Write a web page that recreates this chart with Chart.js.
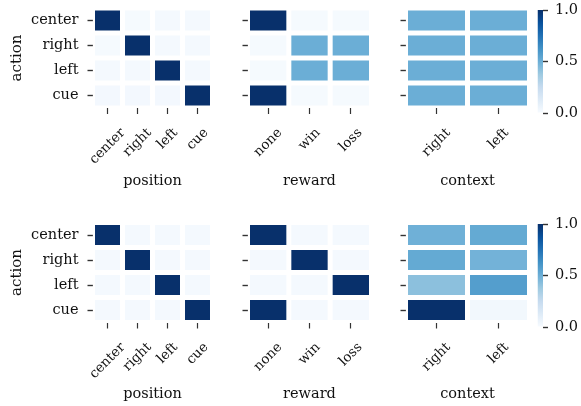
<!DOCTYPE html>
<html>
<head>
<meta charset="utf-8">
<script src="https://cdn.jsdelivr.net/npm/chart.js@4.4.0/dist/chart.umd.min.js"></script>
<style>
  html, body { margin: 0; padding: 0; background: #fff; }
  #fig { position: relative; width: 581px; height: 406px; overflow: hidden; }
  #fig canvas { position: absolute; }
</style>
</head>
<body>
<div id="fig"></div>
<script>
const actions = ['center', 'right', 'left', 'cue'];
const positions = ['center', 'right', 'left', 'cue'];
const rewards = ['none', 'win', 'loss'];
const contexts = ['right', 'left'];

// top row
const topPosition = [
  [1.00, 0.01, 0.015, 0.015],
  [0.01, 1.00, 0.015, 0.015],
  [0.015, 0.015, 1.00, 0.015],
  [0.02, 0.02, 0.02, 1.00],
];
const topReward = [
  [1.00, 0.01, 0.01],
  [0.01, 0.50, 0.50],
  [0.01, 0.50, 0.50],
  [1.00, 0.01, 0.01],
];
const topContext = [
  [0.50, 0.50],
  [0.50, 0.50],
  [0.50, 0.50],
  [0.50, 0.50],
];

// bottom row
const bottomPosition = [
  [1.00, 0.015, 0.015, 0.015],
  [0.015, 1.00, 0.015, 0.015],
  [0.015, 0.015, 1.00, 0.015],
  [0.015, 0.015, 0.015, 1.00],
];
const bottomReward = [
  [1.00, 0.015, 0.015],
  [0.015, 1.00, 0.015],
  [0.015, 0.015, 1.00],
  [1.00, 0.015, 0.015],
];
const bottomContext = [
  [0.49, 0.52],
  [0.52, 0.48],
  [0.42, 0.57],
  [1.00, 0.025],
];

const colorbarTicks = [0, 0.5, 1];

const BLUES = ['#f7fbff', '#deebf7', '#c6dbef', '#9ecae1', '#6baed6', '#4292c6', '#2171b5', '#08519c', '#08306b'];
const FONT = 'DejaVu Serif';
const TEXT = '#111';
const TICK = '#333';

function hex(c) { return [1, 3, 5].map(i => parseInt(c.slice(i, i + 2), 16)); }
function blues(v) {
  const t = Math.max(0, Math.min(1, v)) * (BLUES.length - 1);
  const i = Math.min(Math.floor(t), BLUES.length - 2);
  const f = t - i;
  const a = hex(BLUES[i]), b = hex(BLUES[i + 1]);
  const c = a.map((x, k) => Math.round(x + (b[k] - x) * f));
  return `rgb(${c[0]},${c[1]},${c[2]})`;
}

// category axis whose rotated labels are centred on the tick (like matplotlib ha='center')
class CenteredCategoryScale extends Chart.CategoryScale {
  getLabelItems(chartArea) {
    const fresh = !this._labelItems;
    const items = super.getLabelItems(chartArea);
    if (fresh && items) {
      const ctx = this.ctx;
      items.forEach(it => {
        if (!it.options || !it.options.translation) return;
        ctx.save();
        ctx.font = it.font.string;
        const w = ctx.measureText(String(it.label)).width;
        ctx.restore();
        it.options.translation[0] += w * Math.SQRT1_2 / 2;
      });
    }
    return items;
  }
}
CenteredCategoryScale.id = 'centeredCategory';
CenteredCategoryScale.defaults = Chart.CategoryScale.defaults;
Chart.register(CenteredCategoryScale);

function addCanvas(box) {
  const c = document.createElement('canvas');
  c.width = box.w; c.height = box.h;
  c.style.left = box.x + 'px'; c.style.top = box.y + 'px';
  c.style.width = box.w + 'px'; c.style.height = box.h + 'px';
  document.getElementById('fig').appendChild(c);
  return c;
}

// drop the label-overhang padding so the chart area lands where we put it
function noPad(s) { s.paddingTop = 0; s.paddingBottom = 0; s.paddingLeft = 0; s.paddingRight = 0; }

function heatmap(box, area, rows, cols, values, xTitle, yTitle, showRowLabels, titleY) {
  const canvas = addCanvas(box);
  const xFont = { family: FONT, size: 14.5 };
  new Chart(canvas, {
    type: 'bar',
    data: {
      labels: cols,
      datasets: rows.map((r, i) => ({
        label: r,
        data: cols.map(() => 1),
        backgroundColor: values[i].map(blues),
        borderColor: '#fff',
        borderWidth: 2.5,
        borderSkipped: false,
        barPercentage: 1,
        categoryPercentage: 1,
        inflateAmount: 0,
      })),
    },
    options: {
      responsive: false, animation: false, events: [],
      layout: { padding: { left: 0, top: area.top - box.y, right: box.x + box.w - area.right, bottom: 0 } },
      plugins: { legend: { display: false }, tooltip: { enabled: false } },
      scales: {
        x: {
          type: 'centeredCategory', offset: true,
          stacked: true,
          grid: { drawOnChartArea: false, offset: false, tickLength: 6, tickColor: TICK, tickWidth: 1.2 },
          border: { display: false },
          ticks: { minRotation: 45, maxRotation: 45, autoSkip: false, padding: 11, color: TEXT, font: { family: FONT, size: 13.5 } },
          title: { display: true, text: xTitle, color: TEXT, font: xFont, padding: { top: 0, bottom: box.y + box.h - titleY - 14.5 * 0.6 } },
          afterFit: s => { s.height = box.y + box.h - area.bottom; noPad(s); },
        },
        y: {
          stacked: true, reverse: true, min: 0, max: rows.length,
          afterBuildTicks: s => { s.ticks = rows.map((r, i) => ({ value: i + 0.5 })); },
          grid: { drawOnChartArea: false, tickLength: 5, tickColor: TICK, tickWidth: 1.4 },
          border: { display: false },
          ticks: { autoSkip: false, padding: 9, color: TEXT, font: xFont, callback: (v, i) => showRowLabels ? rows[i] : '' },
          title: { display: !!yTitle, text: yTitle, color: TEXT, font: { family: FONT, size: 15 }, padding: { top: 8.5, bottom: 0 } },
          afterFit: s => { s.width = area.left - box.x; noPad(s); },
        },
      },
    },
  });
}

function colorbar(box, area) {
  const canvas = addCanvas(box);
  new Chart(canvas, {
    type: 'bar',
    data: {
      labels: [''],
      datasets: [{
        data: [1],
        barPercentage: 1, categoryPercentage: 1, borderWidth: 0, inflateAmount: 0,
        backgroundColor: ctx => {
          const a = ctx.chart.chartArea;
          if (!a) return BLUES[4];
          const g = ctx.chart.ctx.createLinearGradient(0, a.bottom, 0, a.top);
          BLUES.forEach((c, i) => g.addColorStop(i / (BLUES.length - 1), c));
          return g;
        },
      }],
    },
    options: {
      responsive: false, animation: false, events: [],
      layout: { padding: { left: area.left - box.x, top: area.top - box.y, bottom: box.y + box.h - area.bottom, right: 0 } },
      plugins: { legend: { display: false }, tooltip: { enabled: false } },
      scales: {
        x: { display: false },
        y: {
          position: 'right', min: 0, max: 1,
          afterBuildTicks: s => { s.ticks = colorbarTicks.map(v => ({ value: v })); },
          grid: { drawOnChartArea: false, tickLength: 5, tickColor: TICK, tickWidth: 1.4 },
          border: { display: false },
          ticks: { padding: 7, color: TEXT, font: { family: FONT, size: 14.5 }, callback: v => v.toFixed(1) },
          afterFit: s => { s.width = box.x + box.w - area.right; noPad(s); },
        },
      },
    },
  });
}

// top row
heatmap({ x: 0, y: 0, w: 225, h: 200 }, { left: 92.5, top: 8, right: 212.5, bottom: 108 },
  actions, positions, topPosition, 'position', 'action', true, 181);
heatmap({ x: 225, y: 0, w: 150, h: 200 }, { left: 247.5, top: 8, right: 371.5, bottom: 108 },
  actions, rewards, topReward, 'reward', '', false, 181);
heatmap({ x: 378, y: 0, w: 155, h: 200 }, { left: 405.5, top: 8, right: 529.5, bottom: 108 },
  actions, contexts, topContext, 'context', '', false, 181);
colorbar({ x: 530, y: 0, w: 51, h: 125 }, { left: 537.5, top: 10, right: 543, bottom: 113 });

// bottom row
heatmap({ x: 0, y: 213, w: 225, h: 193 }, { left: 92.5, top: 222.5, right: 212.5, bottom: 322.5 },
  actions, positions, bottomPosition, 'position', 'action', true, 394);
heatmap({ x: 225, y: 213, w: 150, h: 193 }, { left: 247.5, top: 222.5, right: 371.5, bottom: 322.5 },
  actions, rewards, bottomReward, 'reward', '', false, 394);
heatmap({ x: 378, y: 213, w: 155, h: 193 }, { left: 405.5, top: 222.5, right: 529.5, bottom: 322.5 },
  actions, contexts, bottomContext, 'context', '', false, 394);
colorbar({ x: 530, y: 213, w: 51, h: 125 }, { left: 537.5, top: 224, right: 543, bottom: 327 });
</script>
</body>
</html>
